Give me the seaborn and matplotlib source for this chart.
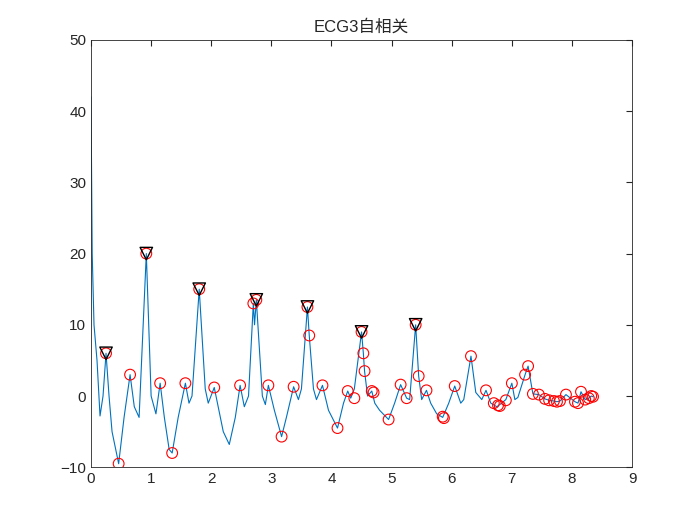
import matplotlib
matplotlib.use("Agg")
import matplotlib.pyplot as plt
import seaborn as sns
import pandas as pd

line_x = [0,0.02,0.05,0.1,0.15,0.2,0.25,0.3,0.35,0.46,0.55,0.65,0.72,0.8,0.92,1.0,1.08,1.15,1.22,1.3,1.35,1.45,1.57,1.63,1.68,1.8,1.9,1.95,2.05,2.2,2.3,2.4,2.48,2.55,2.62,2.7,2.72,2.75,2.85,2.9,2.95,3.05,3.17,3.25,3.37,3.45,3.5,3.6,3.63,3.7,3.75,3.85,3.95,4.1,4.2,4.27,4.32,4.38,4.5,4.53,4.55,4.6,4.67,4.72,4.8,4.95,5.05,5.15,5.25,5.3,5.4,5.45,5.5,5.58,5.65,5.75,5.85,5.95,6.05,6.15,6.2,6.32,6.4,6.5,6.57,6.65,6.75,6.8,6.9,7.0,7.05,7.1,7.22,7.27,7.35,7.45,7.55,7.62,7.7,7.75,7.8,7.9,8.05,8.1,8.15,8.22,8.28,8.32,8.35]
line_y = [42,20,10,5,-2.8,0,6,0,-5,-9.5,-3,3,-1.5,-3,20,0,-2.5,1.8,-3,-7.5,-8,-3,1.8,-1,0,15,1,-1,1.2,-5,-6.8,-3,1.5,-1.5,0,13,10,13.5,0,-1.2,1.5,-2,-5.7,-3,1.3,-0.5,1,12.5,8.5,1,-0.5,1.5,-2,-4.5,-1,0.7,-0.3,1,9,6,3.5,0,0.7,-1,-2,-3.3,-1,1.6,-0.3,-0.5,10,2.8,-0.5,0.8,-1,-2.5,-3,-1,1.4,-1,-0.5,5.6,0.5,-0.5,0.8,-1,-1.5,-1.2,-0.5,1.8,-0.5,-0.2,3,4.2,0.3,0.2,-0.4,-0.6,-0.7,-0.8,-0.7,0.2,-0.8,-1,0.6,-0.5,-0.3,0,-0.1]

circ_x = [0.25,0.46,0.65,0.92,1.15,1.35,1.57,1.8,2.05,2.48,2.7,2.75,2.95,3.17,3.37,3.6,3.63,3.85,4.1,4.27,4.38,4.5,4.53,4.55,4.67,4.7,4.95,5.15,5.25,5.4,5.45,5.58,5.85,5.87,6.05,6.32,6.57,6.7,6.77,6.8,6.9,7.0,7.22,7.27,7.35,7.45,7.55,7.62,7.7,7.75,7.8,7.9,8.05,8.1,8.15,8.22,8.28,8.32,8.35]
circ_y = [6,-9.5,3,20,1.8,-8,1.8,15,1.2,1.5,13,13.5,1.5,-5.7,1.3,12.5,8.5,1.5,-4.5,0.7,-0.3,9,6,3.5,0.7,0.5,-3.3,1.6,-0.3,10,2.8,0.8,-2.9,-3.1,1.4,5.6,0.8,-1,-1.3,-1.4,-0.6,1.8,3,4.2,0.3,0.2,-0.4,-0.6,-0.7,-0.8,-0.7,0.2,-0.8,-1,0.6,-0.5,-0.3,0,-0.1]

tri_x = [0.25,0.92,1.8,2.75,3.6,4.5,5.4]
tri_y = [6,20,15,13.5,12.5,9,10]

sns.set_style("white")
plt.rcParams['font.family'] = ['Liberation Sans', 'Noto Sans CJK SC', 'DejaVu Sans']

fig = plt.figure(figsize=(7, 5.25), dpi=100)
ax = fig.add_axes([0.13, 0.11, 0.773, 0.814])
df = pd.DataFrame({"x": line_x, "y": line_y})
sns.lineplot(data=df, x="x", y="y", ax=ax, color="#0072BD", linewidth=0.8, sort=False)
sns.scatterplot(x=circ_x, y=circ_y, ax=ax, marker="o", s=60, facecolors="none", edgecolor="red", linewidth=0.8, zorder=3)
sns.scatterplot(x=tri_x, y=tri_y, ax=ax, marker="v", s=80, facecolors="none", edgecolor="black", linewidth=1.0, zorder=4)
ax.set_xlim(0, 9)
ax.set_ylim(-10, 50)
ax.set_xticks(range(0, 10))
ax.set_yticks(range(-10, 51, 10))
ax.set_xlabel("")
ax.set_ylabel("")
ax.set_title("ECG3自相关", fontsize=12)
ax.tick_params(direction="in", length=4, labelsize=11, top=True, right=True, color="#262626")
for s in ax.spines.values():
    s.set_color("#262626")
    s.set_linewidth(0.6)
fig.savefig("out.png", dpi=100)
